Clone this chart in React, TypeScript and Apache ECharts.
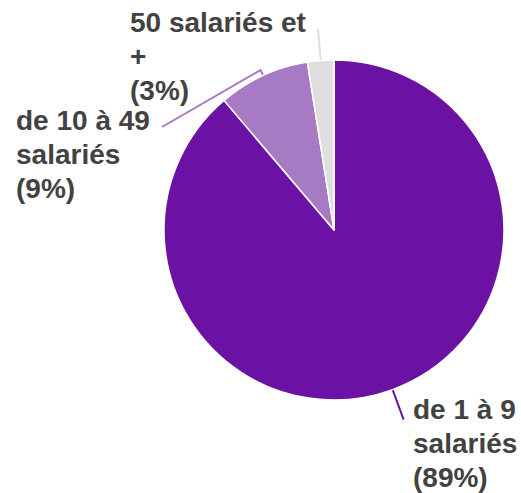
import React, { useEffect, useRef } from "react";
import * as echarts from "echarts";

const categories = ["de 1 à 9 salariés", "de 10 à 49 salariés", "50 salariés et +"];
const labelTexts = ["de 1 à 9\nsalariés\n(89%)", "de 10 à 49\nsalariés\n(9%)", "50 salariés et\n+\n(3%)"];
const values = [88.8, 8.7, 2.5];
const colors = ["#6b12a5", "#a77bc4", "#dedede"];

export default function App() {
  const ref = useRef<HTMLDivElement>(null);
  useEffect(() => {
    document.body.style.margin = "0";
    if (!ref.current) return;
    const chart = echarts.init(ref.current, undefined, { renderer: "svg" });
    const cx = 334;
    const cy = 230;
    const r = 170;
    const total = values.reduce((a, b) => a + b, 0);
    const mids: number[] = [];
    let acc = 0;
    values.forEach((v) => {
      mids.push(((acc + v / 2) / total) * Math.PI * 2);
      acc += v;
    });
    const place: any[] = [
      { x: 413, y: 392, len: 32 },
      { x: 16, y: 103, len: 6, end: [162, 127] },
      { x: 130, y: 5, len: 32 },
    ];
    chart.setOption({
      animation: false,
      series: [
        {
          type: "pie",
          center: [cx, cy],
          radius: r,
          startAngle: 90,
          clockwise: true,
          data: categories.map((c, i) => ({
            name: c,
            value: values[i],
            itemStyle: { color: colors[i] },
            label: { formatter: labelTexts[i] },
            labelLine: { lineStyle: { color: colors[i], width: 2 } },
          })),
          itemStyle: { borderColor: "#fff", borderWidth: 1.5 },
          label: {
            show: true,
            position: "outside",
            color: "#424242",
            fontFamily: "Liberation Sans, Arial, sans-serif",
            fontWeight: "bold",
            fontSize: 28,
            lineHeight: 34,
            align: "left",
            overflow: "none",
            edgeDistance: 0,
          },
          labelLine: { show: true, smooth: false },
          labelLayout: (params: any) => {
            const i = params.dataIndex;
            const t = mids[i];
            const dx = Math.sin(t);
            const dy = -Math.cos(t);
            const p0 = [cx + r * dx, cy + r * dy];
            const p = place[i];
            const p1 = [p0[0] + p.len * dx, p0[1] + p.len * dy];
            const pts = [p0, p1];
            if (p.end) pts.push(p.end);
            return {
              x: p.x,
              y: p.y,
              align: "left",
              verticalAlign: "top",
              labelLinePoints: pts,
            };
          },
        },
      ],
    });
    return () => chart.dispose();
  }, []);
  return <div ref={ref} style={{ width: 521, height: 493 }} />;
}
